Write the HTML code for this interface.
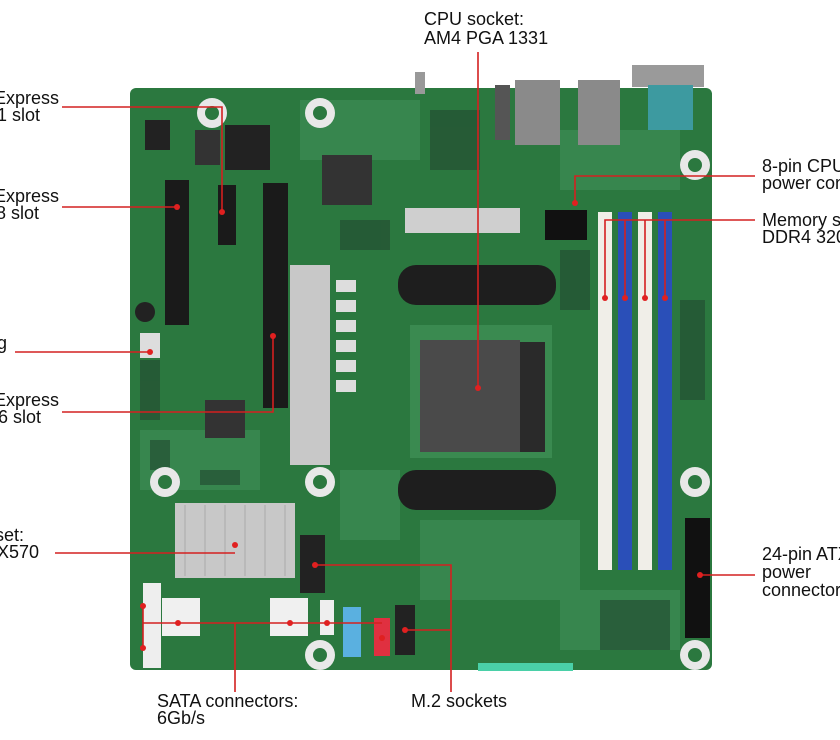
<!DOCTYPE html>
<html><head><meta charset="utf-8"><style>
body{margin:0;background:#fff;}
svg{display:block}
text{font-family:"Liberation Sans",sans-serif;font-size:18px;fill:#111}
</style></head><body>
<svg width="840" height="740" viewBox="0 0 840 740" xmlns="http://www.w3.org/2000/svg">
<rect x="130" y="88" width="582" height="582" rx="6" fill="#2b783f"/>
<g fill="#3b8a52" opacity="0.8">
<rect x="300" y="100" width="120" height="60"/><rect x="340" y="470" width="60" height="70"/>
<rect x="420" y="520" width="160" height="80"/><rect x="560" y="130" width="120" height="60"/>
<rect x="140" y="430" width="120" height="60"/><rect x="560" y="590" width="120" height="60"/>
</g>
<g fill="#244f33" opacity="0.7">
<rect x="150" y="440" width="20" height="30"/><rect x="200" y="470" width="40" height="15"/><rect x="140" y="360" width="20" height="60"/>
<rect x="430" y="110" width="50" height="60"/><rect x="600" y="600" width="70" height="50"/><rect x="680" y="300" width="25" height="100"/>
<rect x="340" y="220" width="50" height="30"/><rect x="560" y="250" width="30" height="60"/>
</g>
<g fill="#e8e8e8"><circle cx="212" cy="113" r="15"/><circle cx="320" cy="113" r="15"/><circle cx="695" cy="165" r="15"/>
<circle cx="165" cy="482" r="15"/><circle cx="320" cy="482" r="15"/><circle cx="695" cy="482" r="15"/>
<circle cx="320" cy="655" r="15"/><circle cx="695" cy="655" r="15"/></g>
<g fill="#2b783f"><circle cx="212" cy="113" r="7"/><circle cx="320" cy="113" r="7"/><circle cx="695" cy="165" r="7"/>
<circle cx="165" cy="482" r="7"/><circle cx="320" cy="482" r="7"/><circle cx="695" cy="482" r="7"/>
<circle cx="320" cy="655" r="7"/><circle cx="695" cy="655" r="7"/></g>
<rect x="515" y="80" width="45" height="65" fill="#8a8a8a"/><rect x="578" y="80" width="42" height="65" fill="#8a8a8a"/>
<rect x="495" y="85" width="15" height="55" fill="#555"/>
<rect x="632" y="65" width="72" height="22" fill="#9a9a9a"/><rect x="648" y="85" width="45" height="45" fill="#3d9aa0"/>
<rect x="415" y="72" width="10" height="22" fill="#999"/>
<rect x="225" y="125" width="45" height="45" fill="#222"/><rect x="195" y="130" width="25" height="35" fill="#333"/>
<rect x="322" y="155" width="50" height="50" fill="#333"/><rect x="145" y="120" width="25" height="30" fill="#222"/>
<rect x="205" y="400" width="40" height="38" fill="#333"/>
<rect x="165" y="180" width="24" height="145" fill="#1a1a1a"/>
<rect x="218" y="185" width="18" height="60" fill="#1a1a1a"/>
<rect x="263" y="183" width="25" height="225" fill="#1a1a1a"/>
<rect x="405" y="208" width="115" height="25" fill="#cfcfcf"/>
<rect x="290" y="265" width="40" height="200" fill="#c8c8c8"/>
<g fill="#ddd"><rect x="336" y="280" width="20" height="12"/><rect x="336" y="300" width="20" height="12"/><rect x="336" y="320" width="20" height="12"/><rect x="336" y="340" width="20" height="12"/><rect x="336" y="360" width="20" height="12"/><rect x="336" y="380" width="20" height="12"/></g>
<rect x="175" y="503" width="120" height="75" fill="#c8c8c8"/>
<g stroke="#aaa" stroke-width="1"><line x1="185" y1="505" x2="185" y2="576"/><line x1="205" y1="505" x2="205" y2="576"/><line x1="225" y1="505" x2="225" y2="576"/><line x1="245" y1="505" x2="245" y2="576"/><line x1="265" y1="505" x2="265" y2="576"/><line x1="285" y1="505" x2="285" y2="576"/></g>
<rect x="410" y="325" width="142" height="133" fill="#3a8a50"/>
<rect x="420" y="340" width="100" height="112" fill="#4a4a4a"/><rect x="520" y="342" width="25" height="110" fill="#2a2a2a"/>
<rect x="398" y="265" width="158" height="40" rx="18" fill="#1e1e1e"/>
<rect x="398" y="470" width="158" height="40" rx="18" fill="#1e1e1e"/>
<rect x="545" y="210" width="42" height="30" fill="#111"/>
<rect x="598" y="212" width="14" height="358" fill="#f0eee8"/><rect x="618" y="212" width="14" height="358" fill="#2a4fb8"/>
<rect x="638" y="212" width="14" height="358" fill="#f0eee8"/><rect x="658" y="212" width="14" height="358" fill="#2a4fb8"/>
<rect x="685" y="518" width="25" height="120" fill="#111"/>
<rect x="300" y="535" width="25" height="58" fill="#222"/><rect x="395" y="605" width="20" height="50" fill="#222"/>
<rect x="143" y="583" width="18" height="85" fill="#eee"/><rect x="162" y="598" width="38" height="38" fill="#f0f0f0"/>
<rect x="270" y="598" width="38" height="38" fill="#f0f0f0"/><rect x="320" y="600" width="14" height="35" fill="#eee"/>
<rect x="343" y="607" width="18" height="50" fill="#5ab0e0"/><rect x="374" y="618" width="16" height="38" fill="#e03040"/>
<rect x="478" y="663" width="95" height="8" fill="#4ad0a8"/>
<rect x="140" y="333" width="20" height="25" fill="#ddd"/><circle cx="145" cy="312" r="10" fill="#222"/>
<g stroke="#d42020" stroke-width="1.6" fill="none">
<path d="M478 52V388"/>
<path d="M755 176H575V203"/>
<path d="M755 220H605V298M625 220V298M645 220V298M665 220V298"/>
<path d="M62 107H222V212"/>
<path d="M62 207H177"/>
<path d="M15 352H150"/>
<path d="M62 412H273V336"/>
<path d="M55 553H235"/>
<path d="M755 575H700"/>
<path d="M315 565H451V692M405 630H451"/>
<path d="M143 606V648M143 623H382M235 623V692"/>
</g>
<g fill="#e02020">
<circle cx="478" cy="388" r="3"/><circle cx="575" cy="203" r="3"/><circle cx="605" cy="298" r="3"/><circle cx="625" cy="298" r="3"/><circle cx="645" cy="298" r="3"/><circle cx="665" cy="298" r="3"/>
<circle cx="222" cy="212" r="3"/><circle cx="177" cy="207" r="3"/><circle cx="150" cy="352" r="3"/><circle cx="273" cy="336" r="3"/><circle cx="235" cy="545" r="3"/>
<circle cx="700" cy="575" r="3"/><circle cx="315" cy="565" r="3"/><circle cx="405" cy="630" r="3"/>
<circle cx="143" cy="606" r="3"/><circle cx="143" cy="648" r="3"/><circle cx="178" cy="623" r="3"/><circle cx="290" cy="623" r="3"/><circle cx="327" cy="623" r="3"/><circle cx="382" cy="638" r="3"/>
</g>
<text x="424" y="25">CPU socket:</text><text x="424" y="44">AM4 PGA 1331</text>
<text x="-6" y="104">Express</text><text x="-3" y="121">1 slot</text>
<text x="-6" y="202">Express</text><text x="-4" y="219">8 slot</text>
<text x="-3" y="349">g</text>
<text x="-6" y="406">Express</text><text x="-12" y="423">16 slot</text>
<text x="-5" y="541">set:</text><text x="-3" y="558">X570</text>
<text x="762" y="172">8-pin CPU</text><text x="762" y="189">power connector</text>
<text x="762" y="226">Memory slots</text><text x="762" y="243">DDR4 3200</text>
<text x="762" y="560">24-pin ATX</text><text x="762" y="578">power</text><text x="762" y="596">connector</text>
<text x="157" y="707">SATA connectors:</text><text x="157" y="724">6Gb/s</text>
<text x="411" y="707">M.2 sockets</text>
</svg>
</body></html>
